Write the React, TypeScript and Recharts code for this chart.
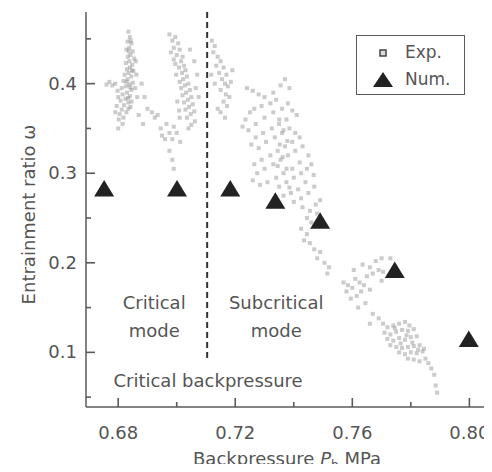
import React from 'react';
import { ScatterChart, Scatter, XAxis, YAxis, ReferenceLine, ReferenceDot, Legend, Label } from 'recharts';

// ---------- axes ----------
const xTicks = [0.68, 0.7, 0.72, 0.74, 0.76, 0.78, 0.8];
const xTickLabels = ['0.68', '', '0.72', '', '0.76', '', '0.80'];
const yTicks = [0.05, 0.1, 0.15, 0.2, 0.25, 0.3, 0.35, 0.4, 0.45];
const yTickLabels = ['', '0.1', '', '0.2', '', '0.3', '', '0.4', ''];
const xDomain = [0.669, 0.805];
const yDomain = [0.039, 0.48];
const criticalBackpressure = 0.7104;
const dashedLineBottom = 0.093;

// ---------- numerical results (triangles) ----------
const numX = [0.6752, 0.7001, 0.7183, 0.7337, 0.749, 0.7745, 0.7998];
const numY = [0.283, 0.283, 0.283, 0.2694, 0.247, 0.192, 0.115];

// ---------- experimental points (squares) ----------
const expClusterA = [
  [0.6835,0.458],[0.684,0.452],[0.6832,0.447],[0.6845,0.445],[0.6838,0.44],[0.6828,0.438],[0.685,0.436],[0.6842,0.432],
  [0.6833,0.43],[0.6855,0.428],[0.6838,0.425],[0.6826,0.423],[0.6848,0.421],[0.684,0.418],[0.683,0.416],[0.6852,0.414],
  [0.6836,0.412],[0.6822,0.41],[0.6845,0.408],[0.6832,0.405],[0.6818,0.403],[0.685,0.401],[0.6838,0.399],[0.6826,0.397],
  [0.6812,0.395],[0.6845,0.393],[0.683,0.39],[0.6815,0.388],[0.684,0.386],[0.6825,0.383],[0.6808,0.381],[0.6835,0.379],
  [0.682,0.376],[0.6842,0.374],[0.6812,0.371],[0.6828,0.368],[0.6805,0.366],[0.6818,0.362],[0.6835,0.372],[0.686,0.425],
  [0.6862,0.41],[0.6858,0.395],[0.6865,0.385],[0.679,0.4],[0.678,0.398],[0.677,0.402],[0.676,0.399],[0.6798,0.392],
  [0.68,0.385],[0.6795,0.375],[0.679,0.368],[0.6802,0.36],[0.6815,0.355],[0.68,0.35],[0.6843,0.448],[0.6836,0.436],
  [0.6847,0.415],[0.6829,0.402],[0.6841,0.396],[0.6834,0.384],[0.6846,0.38],
];
const expBetweenAB = [
  [0.688,0.4],[0.689,0.385],[0.69,0.372],[0.6915,0.368],[0.6925,0.362],[0.6935,0.365],[0.6945,0.35],[0.695,0.342],
  [0.696,0.338],[0.6965,0.355],[0.6975,0.345],[0.6985,0.338],[0.699,0.352],[0.6975,0.325],[0.6985,0.315],[0.699,0.305],
  [0.687,0.365],[0.6885,0.355],
];
const expClusterB = [
  [0.6975,0.455],[0.6985,0.448],[0.6995,0.452],[0.7005,0.445],[0.699,0.44],[0.701,0.438],[0.698,0.435],[0.7,0.432],
  [0.702,0.43],[0.7015,0.425],[0.6995,0.422],[0.7025,0.42],[0.7008,0.418],[0.703,0.415],[0.7018,0.412],[0.6998,0.41],
  [0.7035,0.408],[0.7022,0.405],[0.701,0.402],[0.704,0.4],[0.7028,0.398],[0.7015,0.395],[0.7045,0.393],[0.7032,0.39],
  [0.702,0.387],[0.705,0.385],[0.7038,0.382],[0.7025,0.379],[0.7055,0.377],[0.7042,0.374],[0.703,0.371],[0.706,0.369],
  [0.7048,0.366],[0.7035,0.362],[0.7062,0.358],[0.705,0.354],[0.704,0.35],[0.7065,0.395],[0.707,0.41],[0.7075,0.385],
  [0.706,0.425],[0.7045,0.438],[0.699,0.427],[0.7002,0.38],[0.701,0.362],[0.7,0.345],[0.7012,0.335],[0.7008,0.37],
];
const expClusterC = [
  [0.712,0.448],[0.713,0.442],[0.7125,0.435],[0.714,0.43],[0.715,0.425],[0.7135,0.42],[0.716,0.418],[0.7145,0.412],
  [0.717,0.41],[0.7155,0.405],[0.7165,0.4],[0.7175,0.397],[0.715,0.393],[0.7168,0.388],[0.718,0.385],[0.716,0.38],
  [0.7172,0.375],[0.715,0.368],[0.7165,0.362],[0.714,0.372],[0.713,0.4],[0.7118,0.41],[0.7185,0.402],[0.719,0.415],
];
const expClusterD = [
  [0.724,0.395],[0.726,0.392],[0.728,0.388],[0.73,0.385],[0.733,0.39],[0.7355,0.398],[0.737,0.405],[0.7385,0.395],
  [0.734,0.382],[0.732,0.378],[0.729,0.375],[0.7265,0.372],[0.725,0.368],[0.7235,0.36],[0.7225,0.352],[0.7245,0.348],
  [0.727,0.355],[0.73,0.362],[0.733,0.368],[0.736,0.372],[0.738,0.378],[0.7395,0.37],[0.741,0.365],[0.7375,0.36],
  [0.735,0.355],[0.7325,0.35],[0.7295,0.345],[0.727,0.34],[0.7255,0.332],[0.728,0.328],[0.7305,0.335],[0.7335,0.34],
  [0.736,0.345],[0.7385,0.35],[0.7405,0.345],[0.742,0.34],[0.7395,0.335],[0.737,0.33],[0.7345,0.325],[0.732,0.32],
  [0.729,0.315],[0.7265,0.31],[0.7275,0.3],[0.73,0.305],[0.733,0.31],[0.7355,0.315],[0.738,0.32],[0.7405,0.325],
  [0.743,0.33],[0.745,0.32],[0.742,0.312],[0.7395,0.305],[0.7365,0.3],[0.734,0.295],[0.731,0.29],[0.7285,0.287],
  [0.726,0.292],[0.735,0.285],[0.7375,0.29],[0.74,0.295],[0.7425,0.3],[0.7445,0.305],[0.746,0.31],[0.744,0.29],
  [0.7415,0.282],[0.739,0.278],[0.7365,0.275],[0.74,0.268],[0.7425,0.272],[0.745,0.278],[0.747,0.285],[0.743,0.262],
  [0.7455,0.258],[0.7475,0.265],[0.7445,0.25],[0.746,0.245],[0.748,0.255],[0.735,0.36],[0.7365,0.348],[0.7378,0.336],
  [0.7352,0.332],[0.7362,0.318],[0.7375,0.305],[0.7345,0.308],[0.7385,0.284],[0.7468,0.298],[0.749,0.27],
];
const expTrailDE = [
  [0.7425,0.238],[0.7445,0.232],[0.7435,0.225],[0.7455,0.222],[0.747,0.215],[0.749,0.212],[0.748,0.205],[0.7505,0.2],
  [0.752,0.195],[0.7515,0.188],
];
const expClusterE = [
  [0.757,0.178],[0.7585,0.175],[0.76,0.172],[0.758,0.168],[0.761,0.182],[0.7625,0.178],[0.7595,0.16],[0.7615,0.163],
  [0.763,0.168],[0.764,0.175],[0.7605,0.192],[0.7635,0.198],[0.766,0.195],[0.768,0.202],[0.769,0.192],[0.767,0.188],
  [0.765,0.185],[0.77,0.205],[0.7705,0.19],[0.7645,0.155],[0.762,0.15],[0.766,0.17],[0.77,0.18],[0.773,0.205],
  [0.767,0.143],[0.769,0.138],[0.766,0.132],
];
const expClusterF = [
  [0.7705,0.132],[0.772,0.128],[0.774,0.13],[0.776,0.132],[0.778,0.134],[0.7795,0.13],[0.771,0.122],[0.773,0.12],
  [0.775,0.123],[0.777,0.125],[0.779,0.124],[0.781,0.126],[0.772,0.115],[0.774,0.113],[0.776,0.116],[0.778,0.114],
  [0.78,0.117],[0.782,0.118],[0.773,0.108],[0.775,0.106],[0.777,0.105],[0.779,0.106],[0.781,0.107],[0.783,0.108],
  [0.7845,0.104],[0.776,0.1],[0.778,0.098],[0.78,0.1],[0.782,0.099],[0.784,0.101],[0.779,0.093],[0.781,0.092],
  [0.783,0.09],[0.785,0.093],[0.786,0.088],[0.7745,0.127],[0.7765,0.11],[0.7785,0.119],[0.7805,0.111],[0.7825,0.103],
  [0.787,0.082],[0.788,0.075],[0.7885,0.063],[0.789,0.055],
];

const expData = [
  ...expClusterA, ...expBetweenAB, ...expClusterB, ...expClusterC,
  ...expClusterD, ...expTrailDE, ...expClusterE, ...expClusterF,
].map(([x, y]) => ({ x, y }));
const numData = numX.map((x, i) => ({ x, y: numY[i] }));

// ---------- styles ----------
const FONT = '"DejaVu Sans", sans-serif';
const TEXT = '#555';
const AXIS = '#5a5a5a';
const MAJOR = 9;
const MINOR = 5;

const labelFor = (ticks: number[], labels: string[], v: number) => {
  let best = 0;
  ticks.forEach((t, i) => { if (Math.abs(t - v) < Math.abs(ticks[best] - v)) best = i; });
  return labels[best];
};

const BottomTick = (p: any) => {
  const lab = labelFor(xTicks, xTickLabels, p.payload.value);
  const len = lab ? MAJOR : MINOR;
  return (
    <g>
      <line x1={p.x} x2={p.x} y1={p.y} y2={p.y - len} stroke={AXIS} strokeWidth={1.6} />
      {lab ? <text x={p.x} y={p.y + 32} textAnchor="middle" fill={TEXT} fontSize={18} fontFamily={FONT}>{lab}</text> : null}
    </g>
  );
};
const TopTick = (p: any) => {
  const lab = labelFor(xTicks, xTickLabels, p.payload.value);
  const len = lab ? MAJOR : MINOR;
  return <line x1={p.x} x2={p.x} y1={p.y} y2={p.y + len} stroke={AXIS} strokeWidth={1.6} />;
};
const LeftTick = (p: any) => {
  const lab = labelFor(yTicks, yTickLabels, p.payload.value);
  const len = lab ? MAJOR : MINOR;
  return (
    <g>
      <line x1={p.x} x2={p.x + len} y1={p.y} y2={p.y} stroke={AXIS} strokeWidth={1.6} />
      {lab ? <text x={p.x - 9} y={p.y + 6} textAnchor="end" fill={TEXT} fontSize={18} fontFamily={FONT}>{lab}</text> : null}
    </g>
  );
};
const RightTick = (p: any) => {
  const lab = labelFor(yTicks, yTickLabels, p.payload.value);
  const len = lab ? MAJOR : MINOR;
  return <line x1={p.x} x2={p.x - len} y1={p.y} y2={p.y} stroke={AXIS} strokeWidth={1.6} />;
};

const ExpShape = (p: any) => (
  <rect x={p.cx - 2} y={p.cy - 2} width={4} height={4} fill="#8c8c8c" fillOpacity={0.45} />
);
const NumShape = (p: any) => (
  <path d={`M${p.cx},${p.cy - 8.5} L${p.cx + 10},${p.cy + 8} L${p.cx - 10},${p.cy + 8} Z`} fill="#222" />
);
const NoShape = () => <g />;

const LegendBox = (props: any) => {
  const payload = (props.payload || []).filter((e: any) => e.type !== 'none');
  const names = payload.length >= 2 ? payload.map((e: any) => e.value) : ['Exp.', 'Num.'];
  return (
    <div style={{ width: 109, height: 60, border: `1.5px solid ${AXIS}`, boxSizing: 'border-box', background: '#fff', position: 'relative', fontFamily: FONT, fontSize: 17, color: TEXT }}>
      <svg width={109} height={60} style={{ position: 'absolute', left: -1.5, top: -1.5 }}>
        <rect x={24} y={15} width={6} height={6} fill="#ddd" stroke="#444" strokeWidth={1.5} />
        <path d="M27,37 L37,52 L17,52 Z" fill="#222" />
      </svg>
      <div style={{ position: 'absolute', left: 48, top: 6, lineHeight: '20px' }}>{names[0]}</div>
      <div style={{ position: 'absolute', left: 48, top: 33, lineHeight: '20px' }}>{names[1]}</div>
    </div>
  );
};

const XLabel = (props: any) => {
  const vb = props.viewBox || { x: 78, y: 407, width: 398 };
  return (
    <text x={vb.x + vb.width / 2 + 2} y={vb.y + 58} textAnchor="middle" fill={TEXT} fontSize={18} fontFamily={FONT}>
      Backpressure <tspan fontStyle="italic">P</tspan><tspan fontSize={12} dy={4}>b</tspan><tspan dy={-4}> MPa</tspan>
    </text>
  );
};
const YLabel = (props: any) => {
  const vb = props.viewBox || { x: 18, y: 12, width: 60, height: 395 };
  const cx = 20;
  const cy = vb.y + vb.height / 2 + 5;
  return (
    <text x={cx} y={cy} transform={`rotate(-90, ${cx}, ${cy})`} textAnchor="middle" dominantBaseline="central" fill={TEXT} fontSize={18} fontFamily={FONT}>
      Entrainment ratio ω
    </text>
  );
};

const regionTexts = [
  { x: 0.6923, y: 0.1554, text: 'Critical' },
  { x: 0.6923, y: 0.1242, text: 'mode' },
  { x: 0.734, y: 0.1554, text: 'Subcritical' },
  { x: 0.734, y: 0.1242, text: 'mode' },
  { x: 0.7107, y: 0.0681, text: 'Critical backpressure' },
];

export default function App() {
  return (
    <div style={{ marginTop: -8, marginBottom: -8 }}>
      <ScatterChart width={484} height={472} margin={{ top: 12, right: 8, bottom: 25, left: 18 }}>
        <XAxis
          type="number" dataKey="x" xAxisId={0} domain={xDomain} ticks={xTicks} interval={0}
          allowDataOverflow height={40} tickSize={0} tickMargin={0} tickLine={false}
          axisLine={{ stroke: AXIS, strokeWidth: 1.5 }} tick={<BottomTick />}
        >
          <Label content={<XLabel />} />
        </XAxis>
        <XAxis
          type="number" dataKey="x" xAxisId="top" orientation="top" domain={xDomain} ticks={xTicks} interval={0}
          allowDataOverflow height={0} tickSize={0} tickMargin={0} tickLine={false}
          axisLine={{ stroke: AXIS, strokeWidth: 1.5 }} tick={<TopTick />}
        />
        <YAxis
          type="number" dataKey="y" yAxisId={0} domain={yDomain} ticks={yTicks} interval={0}
          allowDataOverflow width={60} tickSize={0} tickMargin={0} tickLine={false}
          axisLine={{ stroke: AXIS, strokeWidth: 1.5 }} tick={<LeftTick />}
        >
          <Label content={<YLabel />} />
        </YAxis>
        <YAxis
          type="number" dataKey="y" yAxisId="right" orientation="right" domain={yDomain} ticks={yTicks} interval={0}
          allowDataOverflow width={0} tickSize={0} tickMargin={0} tickLine={false}
          axisLine={{ stroke: AXIS, strokeWidth: 1.5 }} tick={<RightTick />}
        />
        <ReferenceLine
          segment={[{ x: criticalBackpressure, y: yDomain[1] }, { x: criticalBackpressure, y: dashedLineBottom }]}
          stroke="#333" strokeWidth={2} strokeDasharray="6 4"
        />
        {regionTexts.map((t, i) => (
          <ReferenceDot key={i} x={t.x} y={t.y} r={1} fill="none" stroke="none"
            label={{ value: t.text, position: 'center', fill: TEXT, fontSize: 18, fontFamily: FONT }} />
        ))}
        <Scatter name="Exp." data={expData} shape={<ExpShape />} isAnimationActive={false} />
        <Scatter name="Num." data={numData} shape={<NumShape />} isAnimationActive={false} />
        <Scatter name="frame" xAxisId="top" yAxisId="right" data={numData} shape={<NoShape />} legendType="none" isAnimationActive={false} />
        <Legend
          layout="vertical" align="center" verticalAlign="middle"
          wrapperStyle={{ left: 348, top: 35, width: 109 }}
          content={<LegendBox />}
        />
      </ScatterChart>
    </div>
  );
}
